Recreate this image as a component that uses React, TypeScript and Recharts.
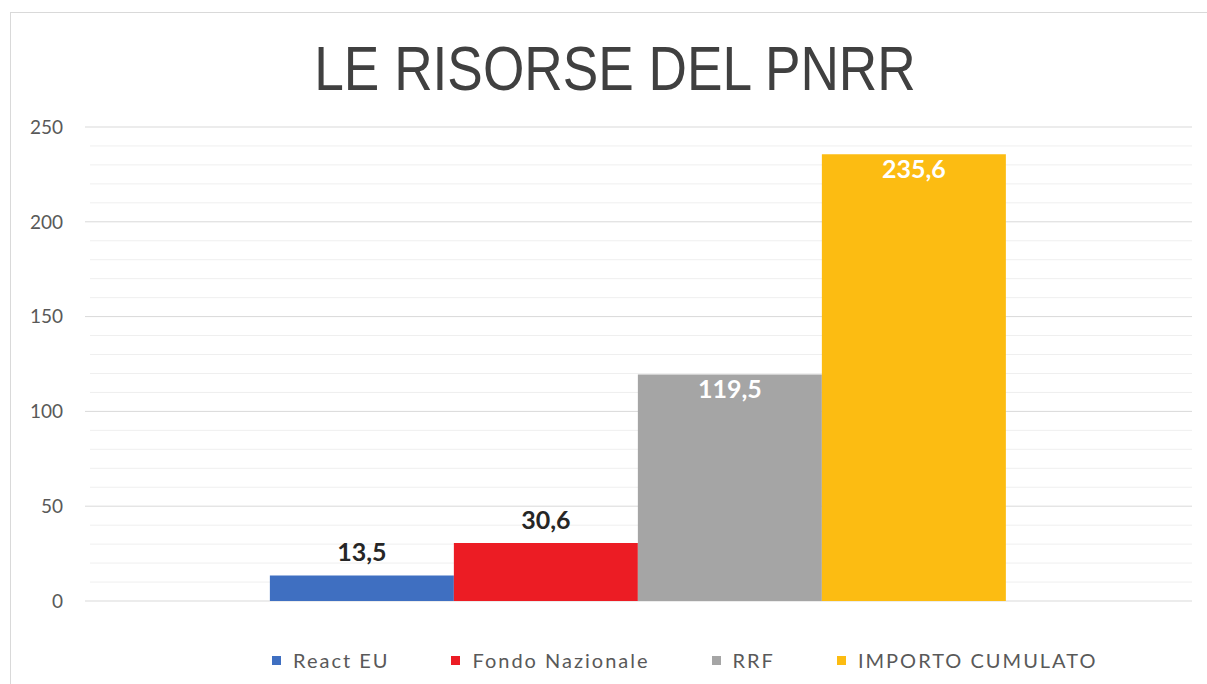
import React from "react";
import { Bar, BarChart, CartesianGrid, LabelList, Legend, XAxis, YAxis } from "recharts";

const CATEGORIES = ["PNRR"];
const SERIES_NAMES = ["React EU", "Fondo Nazionale", "RRF", "IMPORTO CUMULATO"];
const SERIES_VALUES = [13.5, 30.6, 119.5, 235.6];
const SERIES_COLORS = ["#3f6fc1", "#ec1c24", "#a5a5a5", "#fcbc12"];
const LABEL_COLORS = ["#262626", "#262626", "#ffffff", "#ffffff"];
const Y_TICKS = [
  0, 10, 20, 30, 40, 50, 60, 70, 80, 90, 100, 110, 120, 130, 140, 150, 160, 170, 180, 190, 200,
  210, 220, 230, 240, 250,
];
const TITLE = "LE RISORSE DEL PNRR";

const FONT = "Lato, 'Open Sans', sans-serif";

const data = CATEGORIES.map((name) => {
  const row: Record<string, string | number> = { name };
  SERIES_VALUES.forEach((v, i) => {
    row[`s${i}`] = v;
  });
  return row;
});

const fmt = (v: unknown) => String(v).replace(".", ",");

// linee principali ogni 50, secondarie (più chiare) ogni 10
function GridLine(props: any) {
  const { x1, x2, y1, y2, index } = props;
  const major = index % 5 === 0;
  return (
    <line
      x1={major ? x1 : x1 + 5}
      x2={x2}
      y1={y1}
      y2={y2}
      stroke={major ? "#d9d9d9" : "#efefef"}
      strokeWidth={1}
    />
  );
}

function LegendContent() {
  return (
    <div
      style={{
        display: "flex",
        alignItems: "center",
        paddingLeft: 272,
        gap: 62,
        fontFamily: FONT,
        fontSize: 20,
        letterSpacing: 2,
        color: "#595959",
      }}
    >
      {SERIES_NAMES.map((n, i) => (
        <div key={n} style={{ display: "flex", alignItems: "center" }}>
          <span
            style={{
              width: 9,
              height: 9,
              background: SERIES_COLORS[i],
              marginRight: 12,
              display: "inline-block",
            }}
          />
          <span>{n}</span>
        </div>
      ))}
    </div>
  );
}

export default function App() {
  return (
    <div
      style={{
        position: "relative",
        width: 1207,
        height: 684,
        overflow: "hidden",
        background: "#fff",
      }}
    >
      <style>{`body{margin:0}`}</style>
      <div
        style={{
          position: "absolute",
          left: 10,
          top: 12,
          width: 1300,
          height: 800,
          border: "1px solid #d9d9d9",
        }}
      />
      <div
        style={{
          position: "absolute",
          left: 0,
          top: 37,
          width: 1230,
          textAlign: "center",
          fontFamily: "'Liberation Sans Narrow', 'Liberation Sans', sans-serif",
          fontSize: 63,
          lineHeight: "63px",
          color: "#404040",
          transform: "scaleX(0.845)",
          transformOrigin: "615px 0",
        }}
      >
        {TITLE}
      </div>
      <BarChart
        width={1207}
        height={684}
        data={data}
        margin={{ top: 127, right: 15, left: 0, bottom: 83 }}
        barCategoryGap="16.7%"
        barGap={0}
        style={{ position: "absolute", left: 0, top: 0 }}
      >
        <CartesianGrid vertical={false} horizontal={(p: any) => <GridLine {...p} />} />
        <XAxis dataKey="name" hide />
        <YAxis
          width={85}
          domain={[0, 250]}
          ticks={Y_TICKS}
          interval={0}
          axisLine={false}
          tickLine={false}
          tickSize={0}
          tickMargin={22}
          tick={{ fontFamily: FONT, fontSize: 19, fill: "#595959" }}
          tickFormatter={(v) => (Number(v) % 50 === 0 ? String(v) : "")}
        />
        <Legend
          verticalAlign="middle"
          align="center"
          wrapperStyle={{ top: 648, left: 0, width: 1207 }}
          content={() => <LegendContent />}
        />
        {SERIES_NAMES.map((n, i) => (
          <Bar
            key={n}
            dataKey={`s${i}`}
            name={n}
            fill={SERIES_COLORS[i]}
            isAnimationActive={false}
          >
            <LabelList
              dataKey={`s${i}`}
              position={i < 2 ? "top" : "insideTop"}
              offset={i < 2 ? 14 : 6}
              formatter={fmt}
              style={{
                fontFamily: FONT,
                fontSize: 25,
                fontWeight: 700,
                fill: LABEL_COLORS[i],
              }}
            />
          </Bar>
        ))}
      </BarChart>
    </div>
  );
}
